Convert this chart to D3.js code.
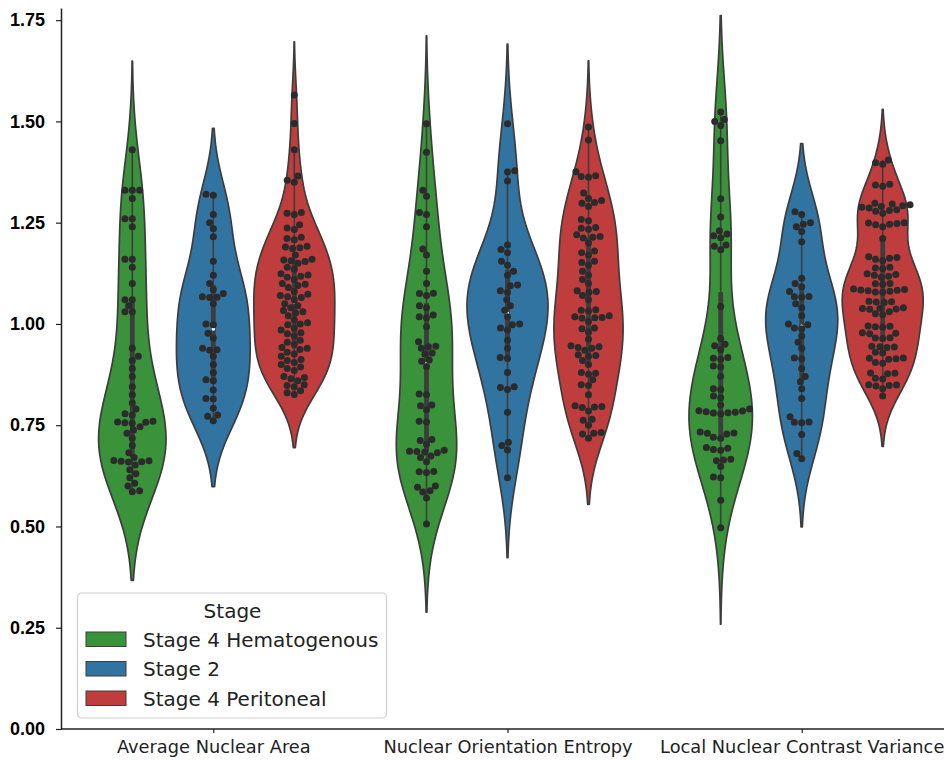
<!DOCTYPE html>
<html>
<head>
<meta charset="utf-8">
<script src="https://cdn.jsdelivr.net/npm/d3@7"></script>
<style>
  body { margin: 0; background: #fff; }
  svg { display: block; }
</style>
</head>
<body>
<svg id="chart" width="944" height="760"></svg>
<script>
var features = ["Average Nuclear Area", "Nuclear Orientation Entropy", "Local Nuclear Contrast Variance"]
var stages = ["Stage 4 Hematogenous", "Stage 2", "Stage 4 Peritoneal"]
var stageColors = ["#3a923a", "#3274a1", "#c03d3e"]
var yTicks = [0, 0.25, 0.5, 0.75, 1.0, 1.25, 1.5, 1.75]

// values, one array per violin
var areaHema = [1.43, 1.33, 1.33, 1.33, 1.31, 1.26, 1.26, 1.24, 1.16, 1.16, 1.14, 1.10, 1.06, 1.06, 1.045, 1.03, 1.03,
  0.94, 0.92, 0.91, 0.89, 0.87, 0.845, 0.825, 0.805, 0.79, 0.778, 0.775, 0.76, 0.758, 0.757, 0.756, 0.755, 0.746,
  0.738, 0.73, 0.718, 0.70, 0.682, 0.67, 0.663, 0.662, 0.661, 0.66, 0.659, 0.652, 0.64, 0.63, 0.62, 0.607, 0.60, 0.588, 0.586]
var areaStage2 = [1.32, 1.318, 1.27, 1.25, 1.235, 1.215, 1.155, 1.12, 1.10, 1.085, 1.075, 1.067, 1.066, 1.065, 1.05,
  1.00, 0.998, 0.977, 0.965, 0.94, 0.936, 0.935, 0.92, 0.90, 0.88, 0.862, 0.86, 0.837, 0.816, 0.815, 0.792, 0.775, 0.772, 0.761]
var areaPerit = [1.565, 1.495, 1.43, 1.365, 1.355, 1.35, 1.275, 1.273, 1.27, 1.245, 1.237, 1.233, 1.214, 1.211, 1.208,
  1.192, 1.19, 1.188, 1.186, 1.17, 1.16, 1.158, 1.156, 1.154, 1.15, 1.14, 1.135, 1.124, 1.121, 1.118, 1.115, 1.11,
  1.10, 1.098, 1.095, 1.09, 1.08, 1.073, 1.07, 1.067, 1.065, 1.06, 1.05, 1.045, 1.04, 1.033, 1.03, 1.027, 1.02,
  1.01, 1.003, 1.0, 0.998, 0.99, 0.985, 0.978, 0.976, 0.97, 0.96, 0.955, 0.95, 0.942, 0.94, 0.937, 0.93, 0.926,
  0.92, 0.912, 0.91, 0.905, 0.90, 0.894, 0.89, 0.885, 0.87, 0.868, 0.865, 0.86, 0.85, 0.848, 0.845, 0.835, 0.83, 0.826]
var entropyHema = [1.494, 1.424, 1.33, 1.315, 1.275, 1.27, 1.24, 1.185, 1.17, 1.13, 1.10, 1.076, 1.075, 1.07, 1.045,
  1.04, 1.022, 1.018, 1.015, 0.993, 0.956, 0.945, 0.944, 0.94, 0.928, 0.925, 0.911, 0.908, 0.895, 0.827, 0.825,
  0.80, 0.798, 0.788, 0.76, 0.758, 0.715, 0.712, 0.703, 0.688, 0.686, 0.685, 0.684, 0.682, 0.674, 0.67, 0.66,
  0.636, 0.635, 0.633, 0.60, 0.597, 0.588, 0.585, 0.57, 0.506]
var entropyStage2 = [1.494, 1.378, 1.375, 1.353, 1.195, 1.184, 1.176, 1.155, 1.145, 1.13, 1.12, 1.096, 1.094, 1.082,
  1.078, 1.06, 1.045, 1.034, 1.018, 1.0, 0.998, 0.99, 0.985, 0.96, 0.94, 0.917, 0.915, 0.88, 0.845, 0.843, 0.838,
  0.782, 0.708, 0.70, 0.689, 0.62]
var entropyPerit = [1.486, 1.454, 1.376, 1.366, 1.364, 1.362, 1.323, 1.31, 1.305, 1.30, 1.298, 1.29, 1.258, 1.255,
  1.238, 1.236, 1.234, 1.22, 1.216, 1.214, 1.212, 1.20, 1.18, 1.176, 1.17, 1.155, 1.152, 1.145, 1.13, 1.12, 1.11,
  1.10, 1.082, 1.08, 1.078, 1.07, 1.06, 1.035, 1.034, 1.032, 1.02, 1.018, 1.016, 1.015, 1.014, 1.006, 0.99, 0.988,
  0.98, 0.962, 0.946, 0.944, 0.942, 0.94, 0.935, 0.924, 0.922, 0.92, 0.91, 0.90, 0.88, 0.878, 0.876, 0.862, 0.85,
  0.848, 0.825, 0.798, 0.796, 0.795, 0.794, 0.785, 0.765, 0.762, 0.75, 0.732, 0.73, 0.728, 0.718]
var contrastHema = [1.523, 1.505, 1.50, 1.49, 1.452, 1.309, 1.264, 1.23, 1.222, 1.218, 1.213, 1.195, 1.192, 1.183,
  1.043, 0.964, 0.95, 0.946, 0.936, 0.917, 0.915, 0.913, 0.896, 0.894, 0.87, 0.84, 0.838, 0.822, 0.818, 0.80, 0.79,
  0.786, 0.785, 0.783, 0.782, 0.781, 0.78, 0.778, 0.733, 0.731, 0.73, 0.728, 0.72, 0.718, 0.695, 0.693, 0.69, 0.688,
  0.666, 0.664, 0.662, 0.648, 0.622, 0.62, 0.565, 0.497]
var contrastStage2 = [1.277, 1.27, 1.25, 1.246, 1.24, 1.228, 1.203, 1.113, 1.10, 1.092, 1.08, 1.068, 1.067, 1.066,
  1.05, 1.04, 1.02, 1.0, 0.998, 0.99, 0.988, 0.97, 0.955, 0.94, 0.916, 0.914, 0.89, 0.87, 0.857, 0.84, 0.816, 0.771,
  0.758, 0.757, 0.756, 0.727, 0.68, 0.667]
var contrastPerit = [1.405, 1.398, 1.394, 1.345, 1.343, 1.34, 1.298, 1.296, 1.294, 1.292, 1.29, 1.288, 1.286, 1.282,
  1.28, 1.278, 1.273, 1.25, 1.249, 1.248, 1.246, 1.245, 1.24, 1.211, 1.166, 1.164, 1.162, 1.16, 1.156, 1.14, 1.138,
  1.136, 1.124, 1.122, 1.12, 1.118, 1.115, 1.10, 1.099, 1.098, 1.086, 1.085, 1.084, 1.083, 1.082, 1.081, 1.079,
  1.078, 1.056, 1.055, 1.054, 1.053, 1.04, 1.039, 1.038, 1.037, 1.036, 1.03, 1.025, 1.023, 0.995, 0.994, 0.993,
  0.992, 0.978, 0.977, 0.976, 0.966, 0.965, 0.964, 0.945, 0.944, 0.943, 0.942, 0.93, 0.928, 0.916, 0.915, 0.914,
  0.913, 0.905, 0.903, 0.879, 0.878, 0.877, 0.866, 0.864, 0.85, 0.849, 0.848, 0.847, 0.84, 0.822]

var groups = [
  [areaHema, areaStage2, areaPerit],
  [entropyHema, entropyStage2, entropyPerit],
  [contrastHema, contrastStage2, contrastPerit]
]

var svg = d3.select("#chart")
var gray = "#3d3d3d"
var plotLeft = 61, plotBottom = 729, plotRight = 944, plotTop = 8

var y = d3.scaleLinear().domain([0, 1.78]).range([plotBottom, plotTop])
var x = d3.scalePoint().domain(features).range([213.3, 801.7])
var hue = d3.scalePoint().domain(stages).range([-81, 81])
var halfWidth = 40.5
var dotD = 7

var gauss = function(u){ return Math.exp(-0.5 * u * u) / Math.sqrt(2 * Math.PI) }

var kde = function(values){
  var n = values.length
  var bw = d3.deviation(values) * Math.pow(n, -0.2)
  var lo = d3.min(values) - 2 * bw
  var hi = d3.max(values) + 2 * bw
  return d3.range(100).map(function(i){
    var t = lo + (hi - lo) * i / 99
    return [t, d3.mean(values, function(v){ return gauss((t - v) / bw) }) / bw]
  })
}

var beeswarm = function(values, cx){
  var pts = values.slice().sort(d3.ascending).map(function(v){ return {v: v, y: y(v)} })
  var placed = []
  pts.forEach(function(p){
    var nb = placed.filter(function(q){ return Math.abs(q.y - p.y) < dotD })
    var cands = [{x: cx, i: 0}]
    nb.forEach(function(q){
      var dy = p.y - q.y
      var dx = Math.sqrt(dotD * dotD - dy * dy) * 1.05
      cands.push({x: q.x - dx, i: cands.length}, {x: q.x + dx, i: cands.length + 1})
    })
    cands.sort(function(a, b){ return (Math.abs(a.x - cx) - Math.abs(b.x - cx)) || (a.i - b.i) })
    for (var k = 0; k < cands.length; k++){
      var c = cands[k]
      var ok = nb.every(function(q){ return (q.x - c.x) * (q.x - c.x) + (q.y - p.y) * (q.y - p.y) >= dotD * dotD * 0.999 })
      if (ok){ p.x = c.x; break }
    }
    placed.push(p)
  })
  return placed
}

var plot = svg.append("g")
var dots = svg.append("g")

groups.forEach(function(row, fi){
  var dens = row.map(kde)
  var maxD = d3.max(dens, function(d){ return d3.max(d, function(p){ return p[1] }) })
  row.forEach(function(values, si){
    var cx = x(features[fi]) + hue(stages[si])
    var w = d3.scaleLinear().domain([0, maxD]).range([0, halfWidth])
    var area = d3.area()
      .y(function(d){ return y(d[0]) })
      .x0(function(d){ return cx - w(d[1]) })
      .x1(function(d){ return cx + w(d[1]) })
    plot.append("path")
      .datum(dens[si])
      .attr("d", area)
      .attr("fill", stageColors[si])
      .attr("stroke", gray)
      .attr("stroke-width", 1.7)
      .attr("stroke-linejoin", "round")

    var sorted = values.slice().sort(d3.ascending)
    var q25 = d3.quantile(sorted, 0.25), q50 = d3.quantile(sorted, 0.5), q75 = d3.quantile(sorted, 0.75)
    var lim = 1.5 * (q75 - q25)
    var h1 = d3.min(sorted.filter(function(v){ return v >= q25 - lim }))
    var h2 = d3.max(sorted.filter(function(v){ return v <= q75 + lim }))
    plot.append("line")
      .attr("x1", cx).attr("x2", cx)
      .attr("y1", y(h1)).attr("y2", y(h2))
      .attr("stroke", gray).attr("stroke-width", 1.6)
    plot.append("line")
      .attr("x1", cx).attr("x2", cx)
      .attr("y1", y(q25)).attr("y2", y(q75))
      .attr("stroke", gray).attr("stroke-width", 4.8)
    plot.append("circle")
      .attr("cx", cx).attr("cy", y(q50)).attr("r", 1.8)
      .attr("fill", "white")

    dots.selectAll(null)
      .data(beeswarm(values, cx))
      .enter()
      .append("circle")
      .attr("cx", function(d){ return d.x })
      .attr("cy", function(d){ return d.y })
      .attr("r", dotD / 2)
      .attr("fill", "#2b2b2b")
  })
})

// axes
var yAxis = svg.append("g")
  .attr("transform", "translate(" + plotLeft + ",0)")
  .call(d3.axisLeft(y).tickValues(yTicks).tickFormat(d3.format(".2f")).tickSize(5).tickSizeOuter(0).tickPadding(11))
yAxis.select(".domain").attr("stroke", "#222").attr("stroke-width", 1.5)
yAxis.selectAll(".tick line").attr("stroke", "#222").attr("stroke-width", 1.2)
yAxis.selectAll(".tick text")
  .attr("fill", "#000")
  .style("font-family", "'Liberation Sans', Arial, sans-serif")
  .style("font-weight", "bold")
  .style("font-size", "18px")

var xAxis = svg.append("g")
  .attr("transform", "translate(0," + plotBottom + ")")
  .call(d3.axisBottom(x).tickSize(4).tickSizeOuter(0).tickPadding(7))
xAxis.select(".domain").remove()
xAxis.selectAll(".tick line").attr("stroke", "#222").attr("stroke-width", 1.2)
xAxis.selectAll(".tick text")
  .attr("fill", "#222")
  .style("font-family", "'DejaVu Sans', sans-serif")
  .style("font-size", "17.8px")
svg.append("line")
  .attr("x1", plotLeft).attr("x2", plotRight)
  .attr("y1", plotBottom).attr("y2", plotBottom)
  .attr("stroke", "#222").attr("stroke-width", 1.5)

// legend
var legend = svg.append("g").attr("transform", "translate(77.5,593)")
legend.append("rect")
  .attr("width", 309).attr("height", 125)
  .attr("rx", 4)
  .attr("fill", "white").attr("fill-opacity", 0.8)
  .attr("stroke", "#d0d0d0").attr("stroke-width", 1.2)
legend.append("text")
  .attr("x", 155).attr("y", 25)
  .attr("text-anchor", "middle")
  .style("font-family", "'DejaVu Sans', sans-serif")
  .style("font-size", "20px")
  .attr("fill", "#222")
  .text("Stage")
var items = legend.selectAll(".item")
  .data(stages)
  .enter()
  .append("g")
  .attr("class", "item")
  .attr("transform", function(d, i){ return "translate(0," + (39 + i * 29.5) + ")" })
items.append("rect")
  .attr("x", 8.5).attr("y", 0)
  .attr("width", 40).attr("height", 14.5)
  .attr("fill", function(d, i){ return stageColors[i] })
  .attr("stroke", gray).attr("stroke-width", 1)
items.append("text")
  .attr("x", 65.5).attr("y", 14.5)
  .style("font-family", "'DejaVu Sans', sans-serif")
  .style("font-size", "20px")
  .attr("fill", "#222")
  .text(function(d){ return d })
</script>
</body>
</html>
